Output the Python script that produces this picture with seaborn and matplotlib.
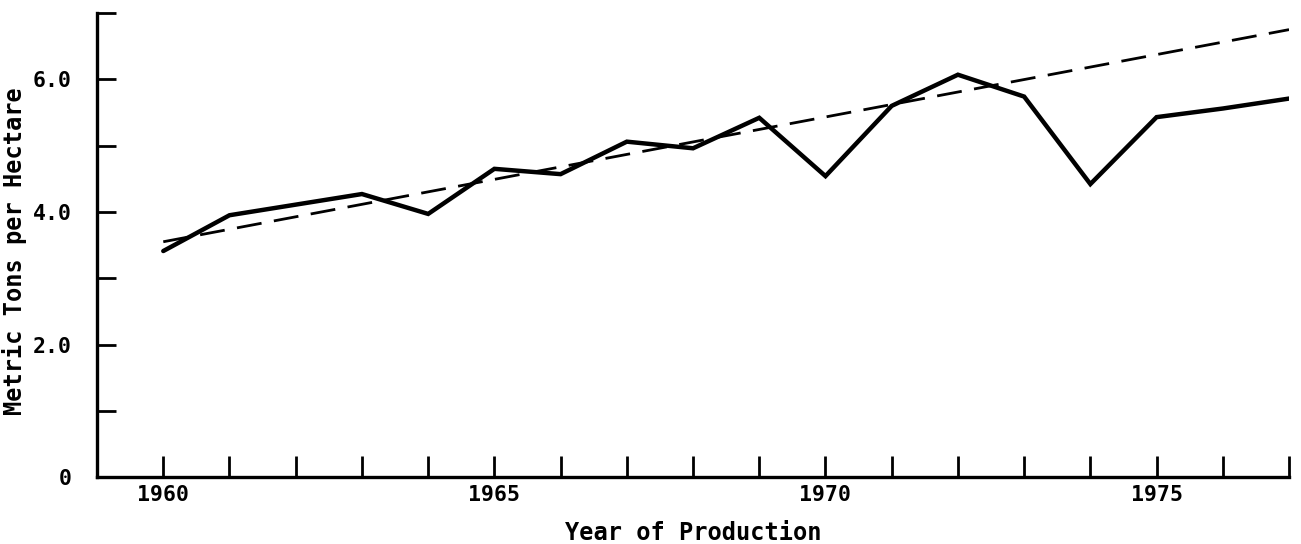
import matplotlib
matplotlib.use("Agg")
import matplotlib.pyplot as plt
from matplotlib.ticker import FixedLocator, MultipleLocator
import pandas as pd
import seaborn as sns

# Annual yield, metric tons per hectare
years = [1960, 1961, 1962, 1963, 1964, 1965, 1966, 1967, 1968,
         1969, 1970, 1971, 1972, 1973, 1974, 1975, 1976, 1977]
yields = [3.41, 3.95, 4.11, 4.27, 3.97, 4.65, 4.57, 5.06, 4.96,
          5.42, 4.54, 5.60, 6.07, 5.74, 4.42, 5.43, 5.56, 5.71]

# Linear trend through the period
trend_years = [1960, 1977]
trend_values = [3.55, 6.75]

x_tick_years = [1960, 1965, 1970, 1975]
x_tick_labels = ["1960", "1965", "1970", "1975"]
y_tick_values = [0, 2, 4, 6]
y_tick_labels = ["0", "2.0", "4.0", "6.0"]

sns.set_style("white")
plt.rcParams["font.family"] = ["DejaVu Sans Mono", "DejaVu Sans"]
plt.rcParams["font.weight"] = "bold"

df = pd.DataFrame({"year": years, "yield": yields})
trend = pd.DataFrame({"year": trend_years, "yield": trend_values})

fig = plt.figure(figsize=(13.01, 5.44), dpi=100)
ax = fig.add_axes([0.0746, 0.123, 0.9162, 0.853])

sns.lineplot(data=df, x="year", y="yield", ax=ax, color="black",
             linewidth=3.2, solid_joinstyle="miter")
sns.lineplot(data=trend, x="year", y="yield", ax=ax, color="black",
             linewidth=2.0, dashes=False, linestyle=(0, (9, 4.5)))

ax.set_xlim(1959, 1977)
ax.set_ylim(0, 7)

ax.xaxis.set_major_locator(FixedLocator(x_tick_years))
ax.set_xticklabels(x_tick_labels)
ax.xaxis.set_minor_locator(MultipleLocator(1))
ax.yaxis.set_major_locator(FixedLocator(y_tick_values))
ax.set_yticklabels(y_tick_labels)
ax.yaxis.set_minor_locator(MultipleLocator(1))

for which in ("major", "minor"):
    ax.tick_params(axis="x", which=which, direction="in", length=15,
                   width=2.0, color="black", pad=6, bottom=True)
    ax.tick_params(axis="y", which=which, direction="in", length=14,
                   width=2.0, color="black", pad=18, left=True)
ax.tick_params(axis="both", which="major", labelsize=15.5, labelcolor="black")

for side in ("top", "right"):
    ax.spines[side].set_visible(False)
for side in ("left", "bottom"):
    ax.spines[side].set_linewidth(2.4)
    ax.spines[side].set_color("black")

ax.set_xlabel("Year of Production", fontsize=17, color="black",
              fontweight="bold")
ax.set_ylabel("Metric Tons per Hectare", fontsize=17, color="black",
              fontweight="bold")
ax.xaxis.set_label_coords(0.5, -0.095)
ax.yaxis.set_label_coords(-0.059, 0.488)

fig.savefig("out.png", dpi=100, facecolor="white")
